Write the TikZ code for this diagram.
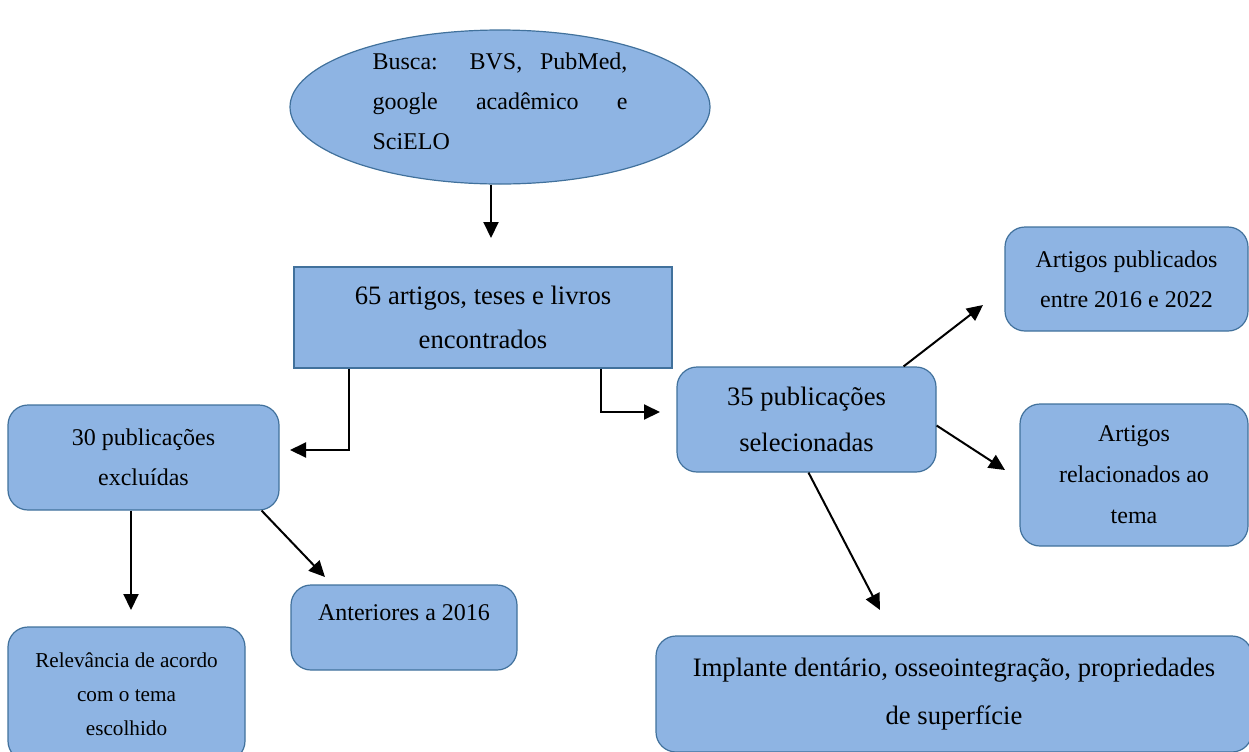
\documentclass[tikz,border=0pt]{standalone}
\usepackage{fontspec}
\setmainfont{Liberation Serif}
\usetikzlibrary{shapes.geometric,arrows.meta,calc}

\definecolor{azulcaixa}{HTML}{8EB4E3}
\definecolor{azulborda}{HTML}{41719C}
\hyphenpenalty=10000
\tolerance=10000

\tikzset{
  caixa/.style={draw=azulborda, line width=0.6pt, fill=azulcaixa, rounded corners=10pt,
    align=center, inner sep=0pt, font=\fontsize{12}{20}\selectfont},
  caixareta/.style={caixa, sharp corners},
  seta/.style={draw=black, line width=1pt, -{Triangle[length=8pt,width=7.5pt]}},
}

\begin{document}
\begin{tikzpicture}[x=0.5pt, y=-0.5pt]
        \useasboundingbox (0,0) rectangle (1249,751);

	% busca e resultado
	\node[caixareta, ellipse, minimum width=210pt, minimum height=77pt,
	      text width=127.5pt, align=justify, text depth=45.5pt] (busca) at (500,107)
	      {Busca: BVS, PubMed, google acadêmico e SciELO};

	\node[caixareta, minimum width=189pt, minimum height=50.5pt,
	      font=\fontsize{13.3}{22}\selectfont] (achados) at (483,317.5)
	      {65 artigos, teses e livros\\encontrados};

	% lado esquerdo
	\node[caixa, minimum width=135.5pt, minimum height=52.5pt] (excl) at (143.5,457.5)
	      {30 publicações\\excluídas};

	\node[caixa, minimum width=118.5pt, minimum height=67pt,
	      font=\fontsize{10.6}{17}\selectfont] (relev) at (126.5,694)
	      {Relevância de acordo\\com o tema\\escolhido};

	\node[caixa, minimum width=113pt, minimum height=42.5pt, text depth=15pt] (anter) at (404,627.5)
	      {Anteriores a 2016};

	% lado direito
	\node[caixa, minimum width=129.5pt, minimum height=52.5pt,
	      font=\fontsize{13.3}{23}\selectfont] (sel) at (806.5,419.5)
	      {35 publicações\\selecionadas};

	\node[caixa, minimum width=121.5pt, minimum height=52pt] (artpub) at (1126.5,279)
	      {Artigos publicados\\entre 2016 e 2022};

	\node[caixa, minimum width=114pt, minimum height=71pt,
	      font=\fontsize{12}{20.5}\selectfont] (artrel) at (1134,475)
	      {Artigos\\relacionados ao\\tema};

	\node[caixa, minimum width=298pt, minimum height=58pt,
	      font=\fontsize{13.3}{24}\selectfont] (impl) at (954,694)
	      {Implante dentário, osseointegração, propriedades\\de superfície};

	% pontas das setas
	\coordinate (pontaBusca) at (491,238);
	\coordinate (dobraEsq) at (349,450);
	\coordinate (pontaEsq) at (290,450);
	\coordinate (dobraDir) at (601,412);
	\coordinate (pontaDir) at (660,412);
	\coordinate (pontaRelev) at (131,610);
	\coordinate (pontaAnter) at (325,577);
	\coordinate (pontaArtPub) at (983,305);
	\coordinate (pontaArtRel) at (1005,470);
	\coordinate (pontaImpl) at (880,610);

	\draw[seta] (busca.south -| pontaBusca) -- (pontaBusca);
	\draw[seta] (achados.south -| dobraEsq) -- (dobraEsq) -- (pontaEsq);
	\draw[seta] (achados.south -| dobraDir) -- (dobraDir) -- (pontaDir);
	\draw[seta] (excl.south -| pontaRelev) -- (pontaRelev);
	\draw[seta] ($(excl.south east)+(-18,0)$) -- (pontaAnter);
	\draw[seta] ($(sel.north east)+(-33,0)$) -- (pontaArtPub);
	\draw[seta] ($(sel.east)+(0,6)$) -- (pontaArtRel);
	\draw[seta] ($(sel.south)+(2,0)$) -- (pontaImpl);

\end{tikzpicture}
\end{document}
